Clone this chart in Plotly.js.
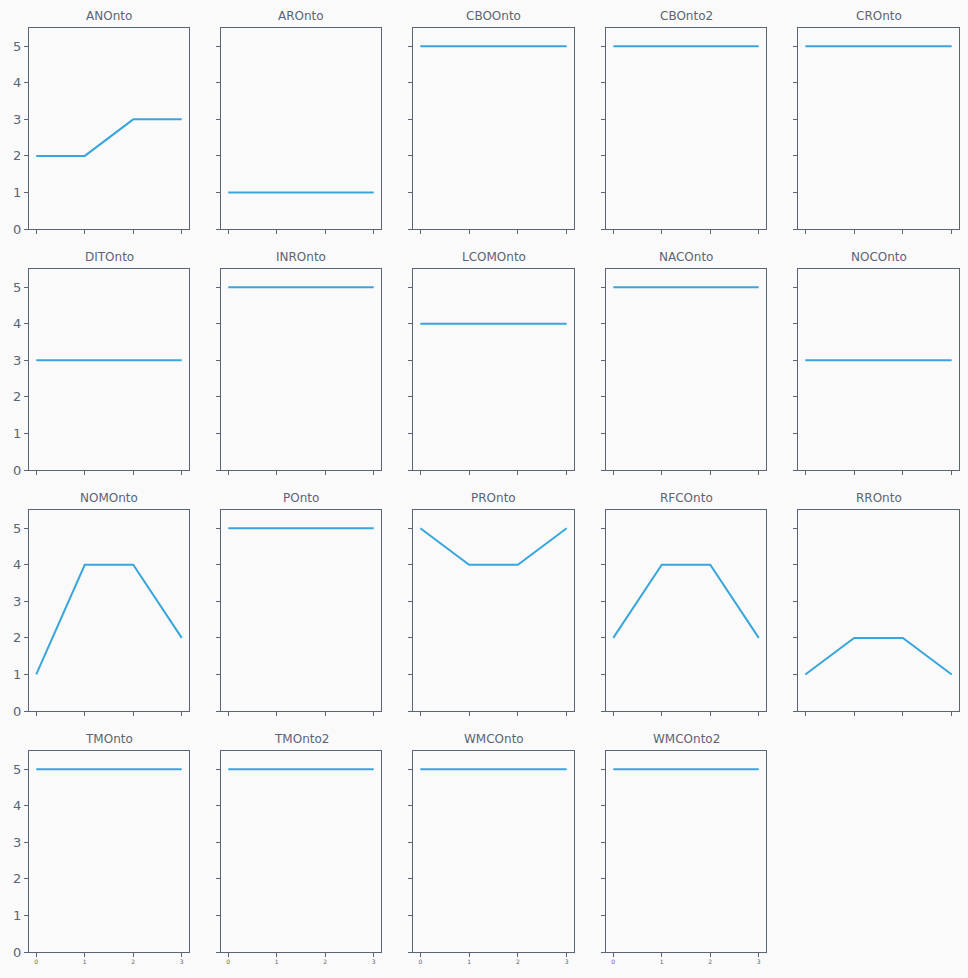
<!DOCTYPE html>
<html>
<head>
<meta charset="utf-8">
<script src="https://cdn.plot.ly/plotly-3.0.1.min.js"></script>
<style>html,body{margin:0;padding:0;background:#fafafa;}</style>
</head>
<body>
<div id="chart" style="width:968px;height:978px;"></div>
<script>
const metrics = ["ANOnto","AROnto","CBOOnto","CBOnto2","CROnto","DITOnto","INROnto","LCOMOnto","NACOnto","NOCOnto","NOMOnto","POnto","PROnto","RFCOnto","RROnto","TMOnto","TMOnto2","WMCOnto","WMCOnto2"];
const xSteps = [0,1,2,3];
const ANOnto = [2,2,3,3];
const AROnto = [1,1,1,1];
const CBOOnto = [5,5,5,5];
const CBOnto2 = [5,5,5,5];
const CROnto = [5,5,5,5];
const DITOnto = [3,3,3,3];
const INROnto = [5,5,5,5];
const LCOMOnto = [4,4,4,4];
const NACOnto = [5,5,5,5];
const NOCOnto = [3,3,3,3];
const NOMOnto = [1,4,4,2];
const POnto = [5,5,5,5];
const PROnto = [5,4,4,5];
const RFCOnto = [2,4,4,2];
const RROnto = [1,2,2,1];
const TMOnto = [5,5,5,5];
const TMOnto2 = [5,5,5,5];
const WMCOnto = [5,5,5,5];
const WMCOnto2 = [5,5,5,5];
const values = [ANOnto,AROnto,CBOOnto,CBOnto2,CROnto,DITOnto,INROnto,LCOMOnto,NACOnto,NOCOnto,NOMOnto,POnto,PROnto,RFCOnto,RROnto,TMOnto,TMOnto2,WMCOnto,WMCOnto2];
const yTicks = [0,1,2,3,4,5];

const W = 968, H = 978;
const colL = [29,221,413,606,798], colR = [189,381,574,766,959];
const rowT = [28,269,510,751], rowB = [229,470,711,952];
const frame = '#5b6475', txt = '#5b6475';
const lineColor = '#38a6dd';

const data = [], layout = {
  width: W, height: H, margin:{l:0,r:0,t:0,b:0},
  paper_bgcolor:'#fafafa', plot_bgcolor:'#fafafa',
  showlegend:false, font:{family:'DejaVu Sans', color:txt},
  annotations:[]
};
metrics.forEach((m,i)=>{
  const r = Math.floor(i/5), c = i%5;
  const n = i+1;
  const xa = 'x'+(n===1?'':n), ya = 'y'+(n===1?'':n);
  data.push({x:xSteps, y:values[i], type:'scatter', mode:'lines', xaxis:xa, yaxis:ya,
    line:{color:lineColor, width:2}, hoverinfo:'skip'});
  const isBottom = (r===3);
  layout['xaxis'+(n===1?'':n)] = {
    domain:[colL[c]/W, colR[c]/W], anchor:ya, range:[-0.15,3.15],
    tickvals:xSteps, ticktext:xSteps.map(String), showticklabels:isBottom,
    ticks:'outside', ticklen:4, tickwidth:1, tickcolor:frame,
    tickfont:{size:6, color:txt}, showgrid:false, zeroline:false,
    showline:true, linecolor:frame, linewidth:1, mirror:true, fixedrange:true
  };
  layout['yaxis'+(n===1?'':n)] = {
    domain:[1-rowB[r]/H, 1-rowT[r]/H], anchor:xa, range:[0,5.5],
    tickvals:yTicks, showticklabels:(c===0),
    ticks:'outside', ticklen:4, tickwidth:1, tickcolor:frame,
    tickfont:{size:13, color:txt}, showgrid:false, zeroline:false,
    showline:true, linecolor:frame, linewidth:1, mirror:true, fixedrange:true
  };
  layout.annotations.push({
    text:m, xref:'paper', yref:'paper', x:(colL[c]+colR[c])/2/W, y:1-rowT[r]/H,
    xanchor:'center', yanchor:'bottom', yshift:3, showarrow:false,
    font:{size:12, color:txt, family:'DejaVu Sans'}
  });
});
Plotly.newPlot('chart', data, layout, {staticPlot:true});
</script>
</body>
</html>
